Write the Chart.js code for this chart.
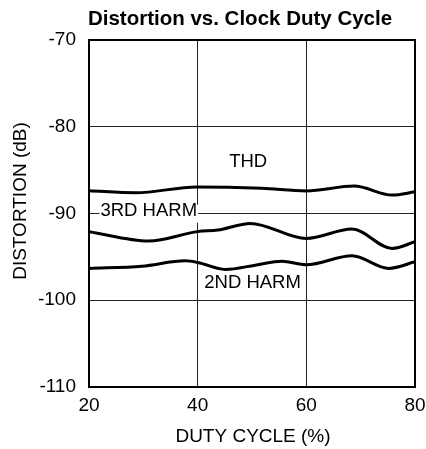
<!DOCTYPE html>
<html><head><meta charset="utf-8">
<script src="https://cdn.jsdelivr.net/npm/chart.js@4/dist/chart.umd.min.js"></script>
<style>html,body{margin:0;padding:0;background:#fff}#wrap{width:426px;height:449px;position:relative}</style>
</head><body><div id="wrap"><canvas id="c" width="426" height="449"></canvas></div>
<script>
const chartTitle = 'Distortion vs. Clock Duty Cycle';
const xAxisTitle = 'DUTY CYCLE (%)';
const yAxisTitle = 'DISTORTION (dB)';
const xTicks = [20, 40, 60, 80];
const yTicks = [-110, -100, -90, -80, -70];
const seriesNames = ['THD', '3RD HARM', '2ND HARM'];
const thdDuty = [20, 28.6, 39.8, 51.8, 60, 68.8, 75.8, 80];
const thdDb   = [-87.38, -87.61, -86.94, -87.10, -87.40, -86.84, -87.88, -87.50];
const h3Duty  = [20, 31, 40, 43.7, 49.7, 60, 68.4, 75.8, 80];
const h3Db    = [-92.11, -93.18, -92.09, -91.91, -91.14, -92.87, -91.80, -94.03, -93.26];
const h2Duty  = [20, 29.75, 37.7, 40, 45.1, 50.6, 55.5, 60, 68.4, 75.2, 80];
const h2Db    = [-96.33, -96.07, -95.46, -95.65, -96.45, -95.96, -95.50, -95.90, -94.87, -96.33, -95.57];

const FONT = "'Liberation Sans', Arial, Helvetica, sans-serif";
const pts = (xs, ys) => xs.map((x, i) => ({x: x, y: ys[i]}));

const lineStyle = {borderColor: '#000', borderWidth: 3, pointRadius: 0, fill: false,
  cubicInterpolationMode: 'monotone'};

// label anchor positions (data coordinates)
const labelPos = [
  {text: seriesNames[0], x: 49.3, y: -83.96, box: false},
  {text: seriesNames[1], x: 31.0, y: -89.57, box: true},
  {text: seriesNames[2], x: 50.1, y: -97.88, box: false}
];

const decor = {
  id: 'decor',
  beforeDatasetsDraw(chart) {
    const {ctx, chartArea: a} = chart;
    ctx.save();
    ctx.strokeStyle = '#000';
    ctx.lineWidth = 2;
    ctx.strokeRect(a.left, a.top, a.right - a.left, a.bottom - a.top);
    ctx.restore();
  },
  afterDatasetsDraw(chart) {
    const {ctx, scales: {x, y}} = chart;
    ctx.save();
    ctx.font = "18.5px " + FONT;
    ctx.textAlign = 'center';
    ctx.textBaseline = 'middle';
    labelPos.forEach(l => {
      const px = x.getPixelForValue(l.x), py = y.getPixelForValue(l.y);
      const w = ctx.measureText(l.text).width;
      if (l.box) {
        ctx.fillStyle = '#fff';
        ctx.fillRect(px - w / 2 - 1, py - 5, w + 2, 18);
      }
      ctx.fillStyle = '#000';
      ctx.fillText(l.text, px, py + 1);
    });
    // chart title
    ctx.font = "bold 20.5px " + FONT;
    ctx.textBaseline = 'alphabetic';
    ctx.fillText(chartTitle, 240, 25);
    // x axis title
    ctx.font = "19px " + FONT;
    ctx.fillText(xAxisTitle, 253, 442);
    // y axis title
    ctx.translate(25.5, 201);
    ctx.rotate(-Math.PI / 2);
    ctx.fillText(yAxisTitle, 0, 0);
    ctx.restore();
  }
};

new Chart(document.getElementById('c'), {
  type: 'line',
  data: {
    datasets: [
      Object.assign({label: seriesNames[0], data: pts(thdDuty, thdDb)}, lineStyle),
      Object.assign({label: seriesNames[1], data: pts(h3Duty, h3Db)}, lineStyle),
      Object.assign({label: seriesNames[2], data: pts(h2Duty, h2Db)}, lineStyle)
    ]
  },
  options: {
    responsive: false,
    animation: false,
    devicePixelRatio: 1,
    layout: {padding: {top: 40, right: 11, left: 0, bottom: 0}},
    plugins: {legend: {display: false}, title: {display: false}, tooltip: {enabled: false}},
    scales: {
      x: {
        type: 'linear', min: 20, max: 80,
        afterBuildTicks: s => { s.ticks = xTicks.map(v => ({value: v})); },
        afterFit: s => { s.height = 62; s.paddingLeft = 0; s.paddingRight = 0; },
        grid: {color: '#222', lineWidth: 1, drawTicks: false},
        border: {display: false},
        ticks: {color: '#000', padding: 7, font: {family: FONT, size: 19}, maxRotation: 0}
      },
      y: {
        type: 'linear', min: -110, max: -70,
        afterBuildTicks: s => { s.ticks = yTicks.map(v => ({value: v})); },
        afterFit: s => { s.width = 89; s.paddingTop = 0; s.paddingBottom = 0; },
        grid: {color: '#222', lineWidth: 1, drawTicks: false},
        border: {display: false},
        ticks: {color: '#000', padding: 13, font: {family: FONT, size: 19}}
      }
    }
  },
  plugins: [decor]
});
</script>
</body></html>
